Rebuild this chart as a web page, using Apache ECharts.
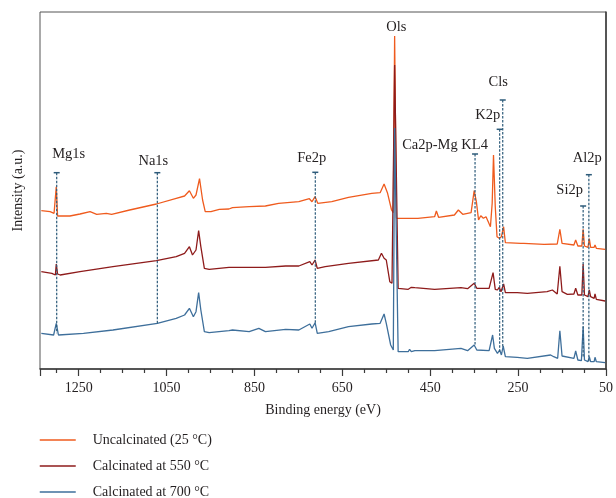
<!DOCTYPE html>
<html>
<head>
<meta charset="utf-8">
<script src="https://cdn.jsdelivr.net/npm/echarts@6/dist/echarts.min.js"></script>
<style>
  html, body { margin: 0; padding: 0; background: #ffffff; }
  #chart { width: 616px; height: 498px; }
</style>
</head>
<body>
<div id="chart"></div>
<script>
// XPS survey spectra: [binding energy (eV), intensity (a.u., offset per sample)]
const seriesNames = ['Uncalcinated (25 °C)', 'Calcinated at 550 °C', 'Calcinated at 700 °C'];

const uncalcinated = [
  [1335,158.3],[1315,157.3],[1306,155.7],[1303,155],[1301,182.3],[1298,153],[1296,151.7],
  [1270,153],[1247,155],[1224,157.3],[1209,154.7],[1187,155.7],[1175,154.7],[1134,159],
  [1073,165],[1028,170.7],[1009,173],[1006,174],[998,178.3],[989,170.7],[983,174],
  [975,190.3],[968,169],[962,157.3],[949,157.3],[930,159.7],[908,160],[900,161.3],
  [862,162.3],[825,163],[795,165.7],[749,167.3],[725,170.3],[719,167.3],[712,172.3],
  [706,165.7],[674,167.3],[636,171.7],[583,175.7],[564,176.3],[555,185],[547,175.7],
  [538,159],[534,156.3],[531,333],[527,150.7],[523,150.7],[478,150.7],[440,152.3],
  [436,158],[431,151.7],[395,154],[386,159],[376,154.7],[357,156.3],[350,178.3],
  [345,167.3],[340,149],[335,153.3],[329,150.7],[323,152.3],[313,142.3],[309,165.7],
  [306,214],[302,162.3],[298,132.3],[293,130.7],[288,132.3],[283,142.3],[279,126.3],
  [244,125.7],[240,127.3],[237,125.7],[191,124.7],[161,125],[155,139.7],[150,125.7],
  [123,124],[119,129],[114,123],[105,123],[102,139.7],[99,123],[91,121.7],[88,130.3],
  [85,121.7],[77,121.7],[75,124],[72,120.7],[52,119.7]
];

const calcined550 = [
  [1335,97.3],[1311,95.7],[1303,94],[1301,105],[1298,95],[1292,94],[1247,97.3],
  [1172,102.3],[1073,108.3],[1028,112.3],[1009,115.7],[1006,114.7],[998,122.3],
  [991,114],[983,119],[977,138.3],[972,122.3],[964,100.7],[960,99],[953,99.7],
  [908,101.7],[900,101.7],[825,101.7],[779,103],[749,103],[724,107.3],[719,104],
  [712,109],[707,100.7],[689,102.3],[636,105.7],[568,109],[561,115.7],[555,110.7],
  [550,109],[542,87.3],[537,85.7],[534,86.3],[531,304],[523,80.7],[500,79.7],
  [493,81.7],[489,79.7],[485,81.3],[440,79.7],[380,81.3],[365,80.3],[350,85.7],
  [344,80.7],[316,80.7],[307,96.3],[302,79.7],[297,79],[293,81.7],[289,77.3],
  [283,85],[279,76.3],[252,76.3],[229,75.7],[184,77.3],[172,79],[161,75],[155,102.7],
  [150,77.3],[138,74.7],[123,75],[119,80.7],[114,74],[105,74],[102,105],[99,74],
  [91,72.3],[88,79],[85,72.3],[77,70.7],[75,75],[72,69.7],[52,68]
];

const calcined700 = [
  [1335,35.7],[1307,34],[1301,45.7],[1296,34],[1239,35.7],[1172,39],[1071,45.7],
  [1028,50.7],[1009,54],[998,60.7],[989,52.3],[983,57.3],[977,76.3],[972,59],
  [964,37.3],[953,36.3],[908,38.3],[900,39],[862,37.3],[840,40.7],[825,37.3],
  [779,39.7],[749,39],[724,45],[719,40.7],[712,46.3],[707,35.7],[681,37.3],[636,42.3],
  [583,45],[564,45.7],[555,55],[550,45.7],[540,24],[537,24],[534,19],[531,241],
  [523,17.3],[500,17.3],[497,19.7],[493,17.3],[485,18.3],[440,18.3],[380,20.7],
  [365,18.3],[350,24],[344,19],[316,18.3],[308,34],[304,20.7],[297,15.7],[292,19],
  [288,14],[284,23],[279,12.3],[252,11.7],[229,10.7],[176,14],[169,12.3],[160,10.7],
  [155,38.3],[150,13],[123,10.7],[119,18],[114,9],[106,8.3],[102,42.3],[99,9],
  [91,7.3],[88,12.3],[85,7.3],[77,7.3],[75,11.7],[72,7.3],[52,6.3]
];

// Peak assignments: name, energy (eV), top and bottom of the guide line (a.u.)
const markerNames    = ['Mg1s', 'Na1s', 'Fe2p', 'Ols', 'Ca2p-Mg KL4', 'K2p', 'Cls', 'Si2p', 'Al2p'];
const markerEnergies = [1300, 1071, 711.5, 530.5, 348, 292, 285, 102, 89];
const markerTops     = [196.3, 196.3, 196.7, 333, 215, 239.7, 269, 163, 194.3];
const markerBottoms  = [35.7, 45.7, 46, 333, 23, 17.3, 22.3, 12, 7.3];

// Axis tick labels (eV)
const energyTicks = [1250, 1050, 850, 650, 450, 250, 50];

// --- layout / style ---
const FONT = '"Liberation Serif", "DejaVu Serif", serif';
const TEXT = '#231f20';
const colors = ['#ef5b1e', '#8e1b1b', '#3e6f9b'];
const GUIDE = '#2d5b7a';
// label placement relative to the top of each guide line (px)
const labelOffsets = {
  'Mg1s': [12, -18.5], 'Na1s': [-4, -12], 'Fe2p': [-3.5, -14.5], 'Ols': [1.5, -9],
  'Ca2p-Mg KL4': [-30, -9], 'K2p': [-12, -14.5], 'Cls': [-4.5, -18], 'Si2p': [-13.5, -16],
  'Al2p': [-1.5, -16.5]
};

// The energy axis starts its ticks at 50 eV; values are shifted so the scale origin sits there.
const E0 = energyTicks[energyTicks.length - 1];
const toAxis = e => e - E0;
const shift = arr => arr.map(p => [toAxis(p[0]), p[1]]);

const markerData = markerNames.map((n, i) => [toAxis(markerEnergies[i]), markerTops[i], markerBottoms[i]]);

const chart = echarts.init(document.getElementById('chart'), null, { renderer: 'canvas' });

const lineSeries = [uncalcinated, calcined550, calcined700].map((d, i) => ({
  name: seriesNames[i],
  type: 'line',
  data: shift(d),
  symbol: 'none',
  smooth: false,
  lineStyle: { color: colors[i], width: 1.3 },
  itemStyle: { color: colors[i] },
  z: 2 + i
}));

const guideSeries = {
  type: 'custom',
  name: 'guides',
  data: markerData,
  z: 10,
  silent: true,
  renderItem: function (params, api) {
    const name = markerNames[params.dataIndex];
    const top = api.coord([api.value(0), api.value(1)]);
    const bot = api.coord([api.value(0), api.value(2)]);
    const off = labelOffsets[name];
    const children = [];
    if (Math.abs(bot[1] - top[1]) > 1) {
      children.push({
        type: 'line',
        shape: { x1: top[0], y1: top[1], x2: bot[0], y2: bot[1] },
        style: { stroke: GUIDE, lineWidth: 1.2, lineDash: [2.5, 1.5] }
      });
      children.push({
        type: 'line',
        shape: { x1: top[0] - 3, y1: top[1], x2: top[0] + 3, y2: top[1] },
        style: { stroke: GUIDE, lineWidth: 1.5 }
      });
    }
    children.push({
      type: 'text',
      x: top[0] + off[0],
      y: top[1] + off[1],
      style: {
        text: name, fill: TEXT, font: '14.5px ' + FONT,
        align: 'center', verticalAlign: 'middle'
      }
    });
    return { type: 'group', children: children };
  }
};

const option = {
  backgroundColor: '#ffffff',
  animation: false,
  textStyle: { fontFamily: FONT, color: TEXT },
  grid: { left: 40, right: 8, top: 12, bottom: 129, show: true, borderColor: '#555555', borderWidth: 1 },
  legend: {
    data: seriesNames,
    orient: 'vertical',
    left: 39,
    top: 433,
    width: 300,
    height: 90,
    padding: 0,
    itemWidth: 36,
    itemHeight: 14,
    itemGap: 12,
    itemStyle: { opacity: 0 },
    lineStyle: { width: 1.5 },
    textStyle: { fontFamily: FONT, fontSize: 14, lineHeight: 14, color: TEXT, padding: [0, 0, 0, 12] }
  },
  xAxis: {
    type: 'value',
    inverse: true,
    min: 0,
    max: 1338 - E0,
    interval: 200,
    name: 'Binding energy (eV)',
    nameLocation: 'middle',
    nameGap: 34,
    nameTextStyle: { fontFamily: FONT, fontSize: 14, color: TEXT },
    axisLine: { show: true, onZero: false, lineStyle: { color: '#3a3a3a', width: 1.5 } },
    axisTick: { show: true, inside: false, length: 7, lineStyle: { color: '#3a3a3a', width: 1.2 } },
    minorTick: { show: true, splitNumber: 4, length: 4, lineStyle: { color: '#3a3a3a', width: 1.2 } },
    axisLabel: {
      margin: 12, fontFamily: FONT, fontSize: 14, color: TEXT,
      showMinLabel: true, showMaxLabel: false,
      formatter: v => String(v + E0)
    },
    splitLine: { show: false },
    minorSplitLine: { show: false }
  },
  yAxis: {
    type: 'value',
    min: 0,
    max: 357,
    name: 'Intensity (a.u.)',
    nameLocation: 'middle',
    nameGap: 15,
    nameTextStyle: { fontFamily: FONT, fontSize: 14, color: TEXT },
    axisLine: { show: true, lineStyle: { color: '#3a3a3a', width: 1.5 } },
    axisTick: { show: false },
    axisLabel: { show: false },
    splitLine: { show: false }
  },
  series: lineSeries.concat([guideSeries])
};

chart.setOption(option);
</script>
</body>
</html>
